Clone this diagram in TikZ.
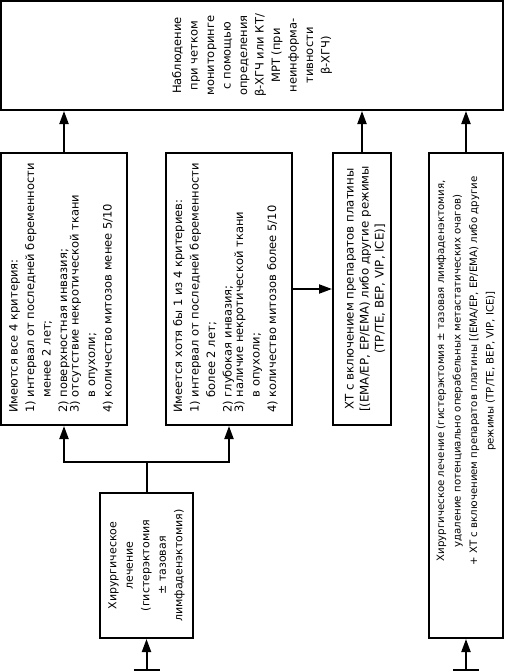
\documentclass[tikz,border=0pt]{standalone}
\usepackage{fontspec}
\setmainfont{DejaVu Sans}
\usetikzlibrary{arrows.meta}
\begin{document}
\begin{tikzpicture}[x=1pt,y=-1pt,
  box/.style={draw, line width=2pt, inner sep=0pt},
  txt/.style={rotate=90, inner sep=0pt, font=\fontsize{11.5}{16.5}\selectfont},
  conn/.style={line width=2pt, -{Triangle[length=13pt,width=9pt]}},
  plain/.style={line width=2pt},
  bar/.style={line width=2.5pt}
]
\useasboundingbox (0,0) rectangle (506,672);
% boxes
\node[box, minimum width=502pt, minimum height=109pt] (top) at (252,55.5) {};
\node[box, minimum width=126pt, minimum height=272pt] (b1) at (64,289) {};
\node[box, minimum width=126pt, minimum height=272pt] (b2) at (229,289) {};
\node[box, minimum width=58pt, minimum height=272pt] (b3) at (362,289) {};
\node[box, minimum width=74pt, minimum height=485pt] (b4) at (466,395.5) {};
\node[box, minimum width=93pt, minimum height=145pt] (s) at (146.5,565.5) {};
% texts
\node[txt, align=center] (ttop) at (top.center) {Наблюдение\\при четком\\мониторинге\\с помощью\\определения\\β-ХГЧ или КТ/\\МРТ (при\\неинформа-\\тивности\\β-ХГЧ)};
\node[txt, align=left, anchor=north west] (t1) at (9,413) {Имеются все 4 критерия:\\1) интервал от последней беременности\\\hphantom{1) }менее 2 лет;\\2) поверхностная инвазия;\\[-5pt]3) отсутствие некротической ткани\\\hphantom{3) }в опухоли;\\4) количество митозов менее 5/10};
\node[txt, align=left, anchor=north west] (t2) at (173,413) {Имеется хотя бы 1 из 4 критериев:\\1) интервал от последней беременности\\\hphantom{1) }более 2 лет;\\2) глубокая инвазия;\\[-5pt]3) наличие некротической ткани\\\hphantom{3) }в опухоли;\\4) количество митозов более 5/10};
\node[txt, align=center, font=\fontsize{11.8}{15}\selectfont] (t3) at ([xshift=3pt]b3.center) {ХТ с включением препаратов платины\\{[}(EMA/EP, EP/EMA) либо другие режимы\\(TP/TE, BEP, VIP, ICE)]};
\node[txt, align=center, font=\fontsize{10.2}{16.5}\selectfont] (t4) at (466,371) {Хирургическое лечение (гистерэктомия ± тазовая лимфаденэктомия,\\удаление потенциально операбельных метастатических очагов)\\+ ХТ с включением препаратов платины [(EMA/EP, EP/EMA) либо другие\\режимы (TP/TE, BEP, VIP, ICE)]};
\node[txt, align=center, font=\fontsize{11}{16.5}\selectfont] (ts) at (s.center) {Хирургическое\\лечение\\(гистерэктомия\\± тазовая\\лимфаденэктомия)};
% connectors
\draw[conn] (b1.north) -- (b1.north |- top.south);
\draw[conn] (b3.north) -- (b3.north |- top.south);
\draw[conn] (b4.north) -- (b4.north |- top.south);
\draw[conn] (b2.east) -- (b3.west);
\coordinate (j) at (146.5,462);
\draw[plain] (s.north) -- (j);
\draw[conn] (j) -| (b1.south);
\draw[conn] (j) -| (b2.south);
\coordinate (st1) at (146.5,670);
\coordinate (st2) at (466,670);
\draw[bar] ([xshift=-13pt]st1) -- ([xshift=13pt]st1);
\draw[bar] ([xshift=-13pt]st2) -- ([xshift=13pt]st2);
\draw[conn] (st1) -- (s.south);
\draw[conn] (st2) -- (b4.south);
\end{tikzpicture}
\end{document}
